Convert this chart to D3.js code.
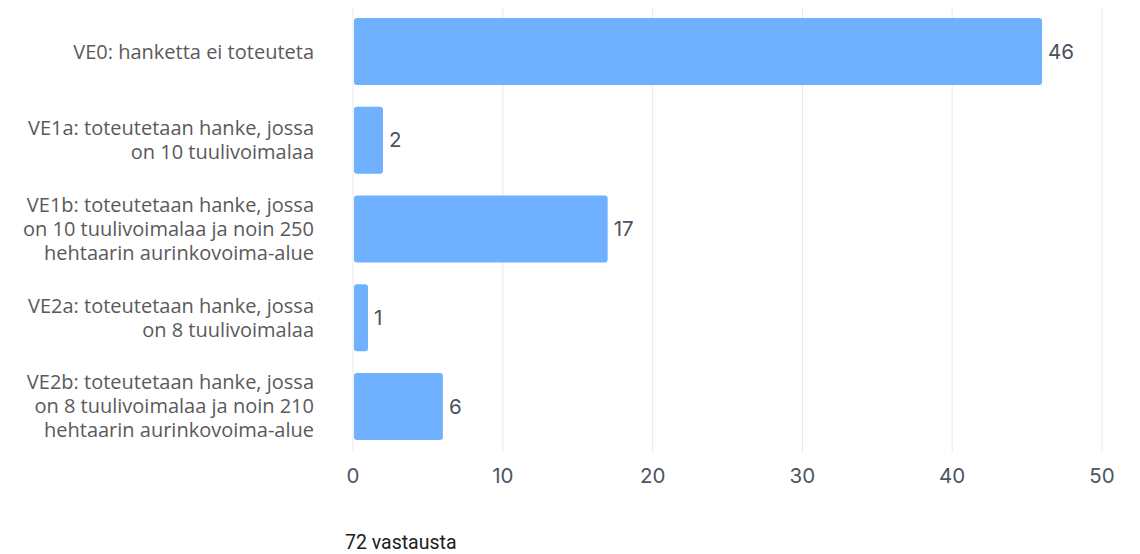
<!DOCTYPE html>
<html>
<head>
<meta charset="utf-8">
<script src="https://cdn.jsdelivr.net/npm/d3@7"></script>
<style>
  body { margin: 0; background: #fff; }
</style>
</head>
<body>
<div id="chart"></div>
<script>
// data
var categories = [
  ["VE0: hanketta ei toteuteta"],
  ["VE1a: toteutetaan hanke, jossa", "on 10 tuulivoimalaa"],
  ["VE1b: toteutetaan hanke, jossa", "on 10 tuulivoimalaa ja noin 250", "hehtaarin aurinkovoima-alue"],
  ["VE2a: toteutetaan hanke, jossa", "on 8 tuulivoimalaa"],
  ["VE2b: toteutetaan hanke, jossa", "on 8 tuulivoimalaa ja noin 210", "hehtaarin aurinkovoima-alue"]
];
var values = [46, 2, 17, 1, 6];
var ticks = [0, 10, 20, 30, 40, 50];
var footer = "72 vastausta";

var width = 1140, height = 554;

var svg = d3.select('#chart')
  .append('svg')
  .attr('width', width)
  .attr('height', height);

var x = d3.scaleLinear()
  .domain([0, 50])
  .range([353, 1102]);

var y = d3.scaleBand()
  .domain(d3.range(categories.length))
  .range([7, 451])
  .paddingInner(0.245)
  .paddingOuter(0.124);

// grid lines
svg.selectAll('.grid')
  .data(ticks)
  .enter()
  .append('line')
  .attr('x1', function(d) { return x(d); })
  .attr('x2', function(d) { return x(d); })
  .attr('y1', 8)
  .attr('y2', 452)
  .attr('stroke', '#e6e9ec')
  .attr('stroke-width', 1);

// bars
svg.selectAll('.bar')
  .data(values)
  .enter()
  .append('rect')
  .attr('x', x(0) + 1)
  .attr('y', function(d, i) { return y(i); })
  .attr('width', function(d) { return x(d) - x(0) - 1; })
  .attr('height', y.bandwidth())
  .attr('rx', 3)
  .attr('fill', '#70b1ff');

// value labels
svg.selectAll('.val')
  .data(values)
  .enter()
  .append('text')
  .attr('x', function(d) { return x(d) + 6; })
  .attr('y', function(d, i) { return y(i) + y.bandwidth() / 2; })
  .attr('dy', '0.35em')
  .style('font-family', 'Inter, sans-serif')
  .style('font-size', '20.5px')
  .attr('fill', '#4a5260')
  .text(function(d) { return d; });

// category labels
var lineH = 24;
var labels = svg.selectAll('.cat')
  .data(categories)
  .enter()
  .append('text')
  .attr('text-anchor', 'end')
  .style('font-family', '"Open Sans", sans-serif')
  .style('font-size', '20px')
  .attr('fill', '#5a5a5a')
  .attr('transform', function(d, i) {
    var cy = y(i) + y.bandwidth() / 2 - (d.length - 1) * lineH / 2;
    return 'translate(314,' + cy + ')';
  });

labels.selectAll('tspan')
  .data(function(d) { return d; })
  .enter()
  .append('tspan')
  .attr('x', 0)
  .attr('y', function(d, j) { return j * lineH; })
  .attr('dy', '0.35em')
  .text(function(d) { return d; });

// x axis tick labels
svg.selectAll('.tick')
  .data(ticks)
  .enter()
  .append('text')
  .attr('x', function(d) { return x(d); })
  .attr('y', 476)
  .attr('dy', '0.35em')
  .attr('text-anchor', 'middle')
  .style('font-family', 'Inter, sans-serif')
  .style('font-size', '20.5px')
  .attr('fill', '#4a5565')
  .text(function(d) { return d; });

// footer
svg.append('text')
  .attr('x', 345)
  .attr('y', 549)
  .style('font-family', 'Roboto, sans-serif')
  .style('font-size', '19.5px')
  .attr('fill', '#202020')
  .text(footer);
</script>
</body>
</html>
